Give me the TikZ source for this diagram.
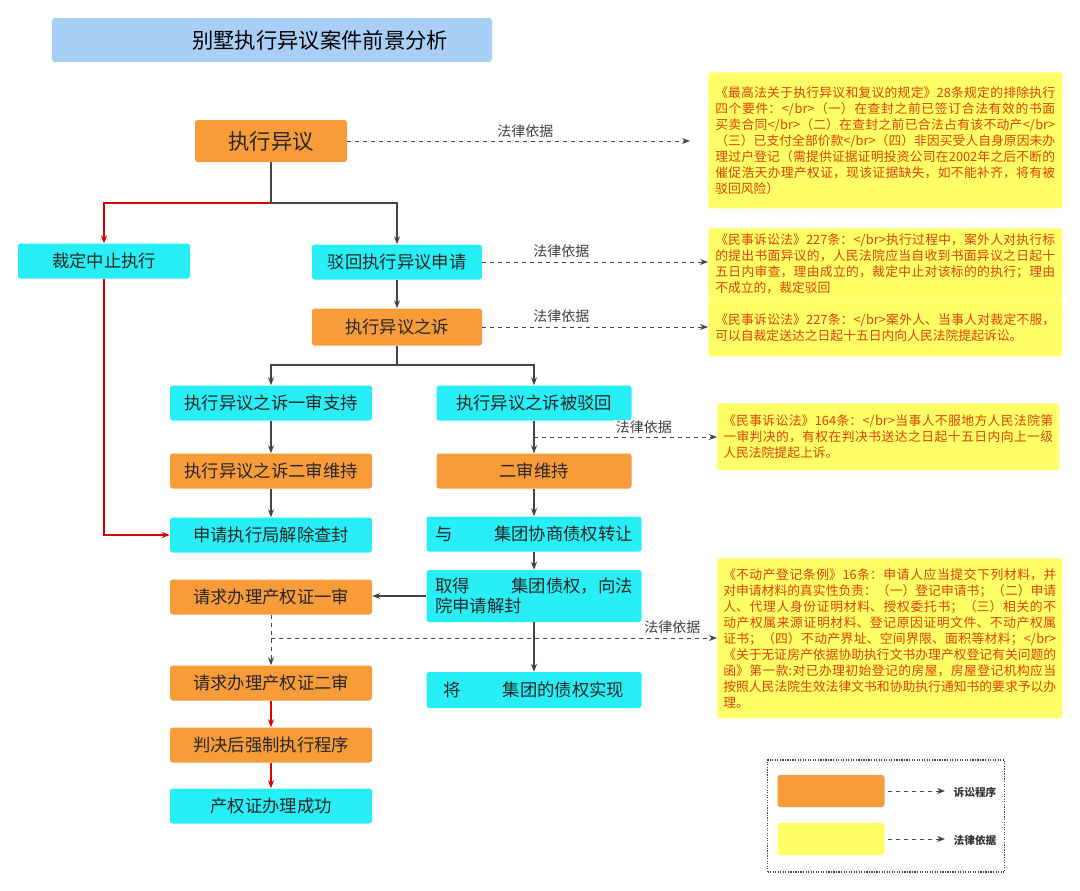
\documentclass[tikz,border=0pt]{standalone}
\usepackage{fontspec}
\setmainfont{Noto Sans CJK SC}
\XeTeXlinebreaklocale "zh"
\XeTeXlinebreakskip=0pt plus 1pt
\usetikzlibrary{arrows.meta}
\definecolor{boxorange}{HTML}{F89C3A}
\definecolor{boxcyan}{HTML}{27EFF5}
\definecolor{boxyellow}{HTML}{FFFF66}
\definecolor{lawred}{HTML}{E0400A}
\definecolor{titleblue}{HTML}{A9CFF7}
\definecolor{linegray}{HTML}{444444}
\begin{document}
\begin{tikzpicture}[x=0.75pt, y=-0.75pt]
    \tikzstyle{proc} = [rectangle, fill=boxorange, rounded corners=2pt, minimum width=202*0.75pt, minimum height=35*0.75pt, font=\fontsize{13}{15}\selectfont, text=black!85, inner sep=0pt]
    \tikzstyle{state} = [proc, fill=boxcyan]
    \tikzstyle{law} = [rectangle, fill=boxyellow, rounded corners=2pt, text=lawred, font=\fontsize{9.6}{12}\selectfont, align=justify, inner sep=4pt, anchor=north west]
    \tikzstyle{flow} = [draw=linegray, line width=0.9pt, -{Stealth[length=6pt]}]
    \tikzstyle{redflow} = [draw=red!85!black, line width=0.9pt, -{Stealth[length=6pt]}]
    \tikzstyle{basis} = [draw=linegray, line width=0.7pt, dashed, -{Stealth[length=6pt]}]
    \tikzstyle{tag} = [font=\fontsize{10.5}{12}\selectfont, text=black!75, fill=white, inner sep=1pt]

    \useasboundingbox (0,0) rectangle (1080,890);

    % title
    \node (title) [rectangle, fill=titleblue, rounded corners=2pt, minimum width=440*0.75pt, minimum height=44*0.75pt, font=\fontsize{16}{18}\selectfont] at (272,40) {\hspace{4.5em}别墅执行异议案件前景分析};

    % left column
    \node (objection) [proc, minimum width=152*0.75pt, minimum height=42*0.75pt, font=\fontsize{16}{18}\selectfont] at (271,141) {执行异议};
    \node (suspend) [state, minimum width=172*0.75pt] at (104,261) {裁定中止执行};
    \node (reject) [state, minimum width=170*0.75pt] at (397,262) {驳回执行异议申请};
    \node (suit) [proc, minimum width=170*0.75pt, minimum height=37*0.75pt] at (397,327) {执行异议之诉};
    \node (firstwin) [state] at (271,403) {执行异议之诉一审支持};
    \node (secondwin) [proc] at (271,471) {执行异议之诉二审维持};
    \node (unseal) [state] at (271,535) {申请执行局解除查封};
    \node (cert1) [proc] at (271,597) {请求办理产权证一审};
    \node (cert2) [proc] at (271,683) {请求办理产权证二审};
    \node (enforce) [proc] at (271,745) {判决后强制执行程序};
    \node (done) [state] at (271,806) {产权证办理成功};

    % right column
    \node (dismissed) [state, minimum width=195*0.75pt] at (534,403) {执行异议之诉被驳回};
    \node (upheld) [proc, minimum width=195*0.75pt] at (534,471) {二审维持};
    \node (negotiate) [state, minimum width=215*0.75pt] at (534,534) {与\hspace{2.4em}集团协商债权转让};
    \node (obtain) [state, minimum width=215*0.75pt, minimum height=52*0.75pt, align=left] at (534,596) {取得\hspace{2.4em}集团债权，向法\\院申请解封};
    \node (realize) [state, minimum width=215*0.75pt, minimum height=36*0.75pt] at (534,690) {将\hspace{2.4em}集团的债权实现};

    % legal basis
    \node (law1) [law, minimum width=354*0.75pt, minimum height=136*0.75pt, text width=340*0.75pt] at (708,72) {《最高法关于执行异议和复议的规定》28条规定的排除执行四个要件：</br>（一）在查封之前已签订合法有效的书面买卖合同</br>（二）在查封之前已合法占有该不动产</br>（三）已支付全部价款</br>（四）非因买受人自身原因未办理过户登记（需提供证据证明投资公司在2002年之后不断的催促浩天办理产权证，现该证据缺失，如不能补齐，将有被驳回风险）};
    \node (law2) [law, minimum width=354*0.75pt, minimum height=66*0.75pt, text width=340*0.75pt] at (708,228) {《民事诉讼法》227条：</br>执行过程中，案外人对执行标的提出书面异议的，人民法院应当自收到书面异议之日起十五日内审查，理由成立的，裁定中止对该标的的执行；理由不成立的，裁定驳回};
    \node (law3) [law, minimum width=354*0.75pt, minimum height=57*0.75pt, text width=340*0.75pt] at (708,299) {《民事诉讼法》227条：</br>案外人、当事人对裁定不服，可以自裁定送达之日起十五日内向人民法院提起诉讼。};
    \node (law4) [law, minimum width=342*0.75pt, minimum height=67*0.75pt, text width=330*0.75pt] at (717,403) {《民事诉讼法》164条：</br>当事人不服地方人民法院第一审判决的，有权在判决书送达之日起十五日内向上一级人民法院提起上诉。};
    \node (law5) [law, minimum width=345*0.75pt, minimum height=160*0.75pt, text width=333*0.75pt] at (717,558) {《不动产登记条例》16条：申请人应当提交下列材料，并对申请材料的真实性负责：（一）登记申请书；（二）申请人、代理人身份证明材料、授权委托书；（三）相关的不动产权属来源证明材料、登记原因证明文件、不动产权属证书；（四）不动产界址、空间界限、面积等材料；</br>《关于无证房产依据协助执行文书办理产权登记有关问题的函》第一款:对已办理初始登记的房屋，房屋登记机构应当按照人民法院生效法律文书和协助执行通知书的要求予以办理。};

    % legend
    \node (legendframe) [rectangle, draw=linegray, densely dotted, line width=0.9pt, minimum width=237*0.75pt, minimum height=112*0.75pt] at (886,816) {};
    \node (legproc) [rectangle, fill=boxorange, rounded corners=2pt, minimum width=107*0.75pt, minimum height=32*0.75pt] at (831,791) {};
    \node (leglaw) [rectangle, fill=boxyellow, rounded corners=2pt, minimum width=107*0.75pt, minimum height=32*0.75pt] at (831,839) {};
    \node (legproctext) [font=\bfseries\fontsize{8}{10}\selectfont, text=black!80] at (975,792) {诉讼程序};
    \node (leglawtext) [font=\bfseries\fontsize{8}{10}\selectfont, text=black!80] at (975,840) {法律依据};
    \draw [basis, line width=0.6pt] (legproc.east) ++(3,0) -- (945,791);
    \draw [basis, line width=0.6pt] (leglaw.east) ++(3,0) -- (945,839);

    % junctions
    \coordinate (split1) at (271,203);
    \coordinate (split2) at (397,365);
    \coordinate (redcorner) at (104,535);
    \coordinate (certsplit) at (271,638);
    \coordinate (dismissout) at (534,437);

    % connectors
    \draw [redflow] (objection.south) -- (split1) -| (suspend.north);
    \draw [flow] (objection.south) -- (split1) -| (reject.north);
    \draw [flow] (reject) -- (suit);
    \draw [flow] (suit.south) -- (split2) -| (firstwin.north);
    \draw [flow] (suit.south) -- (split2) -| (dismissed.north);
    \draw [flow] (firstwin) -- (secondwin);
    \draw [flow] (secondwin) -- (unseal);
    \draw [redflow] (suspend.south) -- (redcorner) -- (unseal.west);
    \draw [flow] (dismissed) -- (upheld);
    \draw [flow] (upheld) -- (negotiate);
    \draw [flow] (negotiate) -- (obtain);
    \draw [flow] (obtain) -- (realize);
    \draw [flow] (obtain.west) -- (cert1.east |- obtain.west);
    \draw [basis] (cert1) -- (cert2);
    \draw [redflow] (cert2) -- (enforce);
    \draw [redflow] (enforce) -- (done);

    % legal basis links
    \draw [basis] (objection.east) -- ([xshift=-18*0.75pt]law1.west |- objection.east) node [pos=0.52, above=1pt, tag] {法律依据};
    \draw [basis] (reject.east) -- (law2.west |- reject.east) node [pos=0.35, above=2pt, tag] {法律依据};
    \draw [basis] (suit.east) -- (law3.west |- suit.east) node [pos=0.35, above=2pt, tag] {法律依据};
    \draw [basis] (dismissout) -- (law4.west |- dismissout) node [pos=0.6, above=1pt, tag] {法律依据};
    \draw [basis] (certsplit) -- (law5.west |- certsplit) node [pos=0.9, above=2pt, tag] {法律依据};
\end{tikzpicture}
\end{document}
